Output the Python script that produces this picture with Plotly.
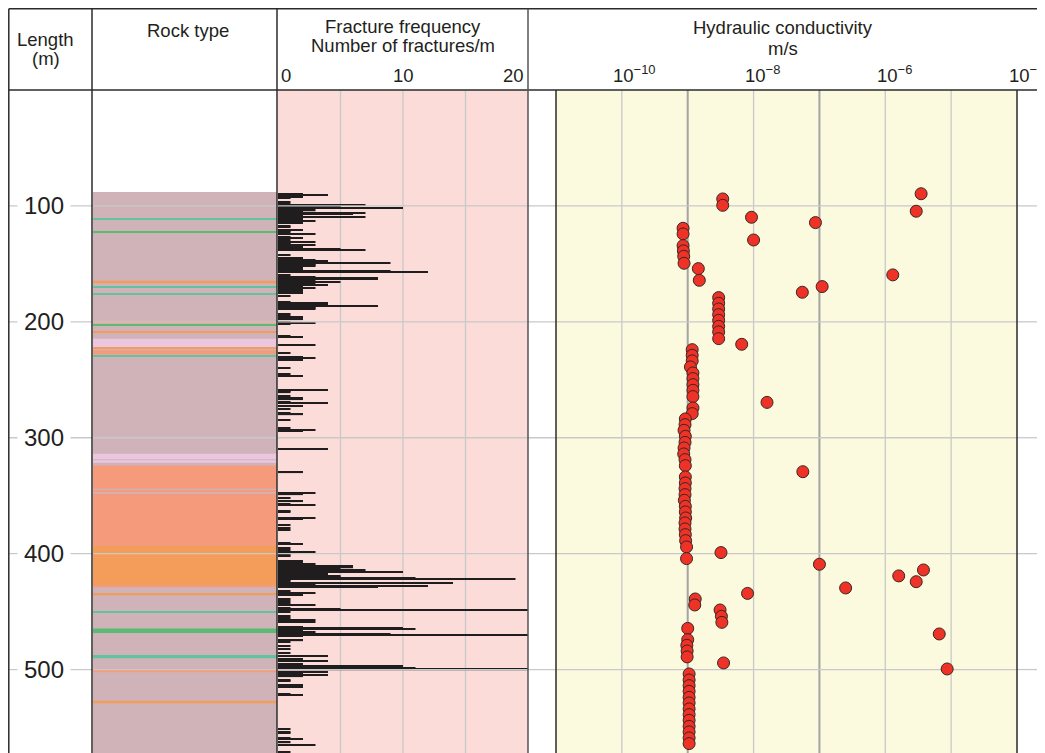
import plotly.graph_objects as go

# The page adds an 8 px body margin, so the figure is made 8 px smaller and
# every reference pixel position is shifted by OFF.
OFF = 8
W, H = 1045 - OFF, 753 - OFF
TOP = 90  # header bottom (reference px)

def px(x):
    return (x - OFF) / W

def py(y):
    return 1 - (y - OFF) / H

DEPTH_MAX = 572
FONT = "Liberation Sans, Arial, sans-serif"
TXT = "#231f20"

# ---------------- Rock type intervals (m) ----------------
rock_top = [88, 110.5, 121.7, 164.5, 169.6, 175.6, 199.3, 202.5, 208.5, 214.5, 222.4, 224.6, 229.2,
            313.8, 319.5, 324.0, 345.5, 348.3, 393.3, 427.8, 434.8, 450.0, 464.5, 487.4, 501.0, 527.0]
rock_bottom = [572, 111.5, 122.7, 166.8, 170.4, 176.4, 200.3, 203.5, 209.6, 222.0, 223.4, 228.3, 229.9,
               318.5, 321.5, 344.0, 346.8, 393.3, 427.8, 429.0, 436.0, 451.0, 468.5, 490.3, 502.4, 529.0]
rock_kind = ["mauve", "teal", "green", "orange", "teal", "teal", "salmon", "green", "orange", "pink", "orange",
             "salmon", "teal", "pink", "pink", "salmon", "salmon", "salmon", "orange", "salmon", "orange",
             "teal", "green", "teal", "salmon", "orange"]
rock_palette = {"mauve": "#cfb3b8", "teal": "#62c49f", "green": "#5bbb72", "orange": "#f49c5a",
                "salmon": "#f59b7b", "pink": "#eac6df"}

# ---------------- Fracture frequency (per 1 m) ----------------
frac_depth = [90, 91, 92, 93, 97, 98, 99, 100, 101, 102, 103, 104, 105, 106, 107, 108, 109, 110, 111, 112,
              113, 114, 115, 117, 118, 121, 122, 123, 124, 127, 128, 129, 130, 131, 132, 133, 134, 135, 136,
              137, 138, 142, 145, 147, 148, 149, 150, 151, 152, 153, 154, 155, 156, 157, 160, 161, 162, 163,
              165, 166, 167, 168, 169, 171, 172, 173, 174, 175, 178, 183, 184, 185, 186, 187, 188, 189, 193,
              195, 196, 197, 198, 200, 201, 202, 212, 213, 220, 227, 230, 231, 232, 233, 240, 245, 247,
              259, 260, 261, 264, 266, 267, 269, 270, 273, 275, 279, 280, 285, 292, 293, 294, 310, 330,
              348, 349, 352, 355, 357, 358, 363, 364, 369, 370, 375, 378, 380, 391, 392, 395, 397, 399,
              401, 402, 406, 407, 409, 411, 412, 413, 414, 415, 416, 417, 418, 419, 420, 421,
              422, 423, 424, 425, 427, 428, 429, 432, 434, 435, 436, 439, 441, 443, 444, 447, 448, 449,
              450, 454, 456, 457, 459, 463, 464, 465, 466, 467, 468, 469, 470, 471, 475, 476, 480, 482,
              486, 488, 491, 493, 495, 497, 498, 499, 500, 502, 503, 504, 505, 506, 509, 510, 513, 514,
              515, 521, 522, 551, 554, 555, 559, 560, 563, 565, 571]
frac_count = [2, 4, 2, 1, 1, 1, 7, 5, 5, 10, 2, 3, 2, 7, 6, 2, 2, 7, 2, 2,
              3, 1, 2, 1, 1, 2, 1, 1, 3, 1, 2, 1, 1, 3, 1, 1, 3, 2, 2,
              5, 7, 1, 2, 3, 4, 9, 3, 3, 3, 2, 2, 2, 9, 12, 1, 3, 8, 8,
              3, 5, 3, 4, 2, 3, 2, 2, 2, 2, 1, 1, 4, 4, 8, 3, 3, 3, 1,
              1, 2, 2, 2, 1, 3, 1, 1, 2, 3, 1, 2, 3, 2, 2, 1, 1, 2,
              4, 1, 1, 1, 2, 2, 1, 4, 2, 1, 1, 2, 1, 1, 3, 2, 4, 2,
              3, 2, 1, 2, 1, 3, 1, 1, 3, 2, 1, 1, 1, 1, 2, 1, 1, 3,
              1, 1, 2, 2, 3, 6, 6, 5, 7, 3, 10, 3, 4, 5, 5, 11,
              19, 1, 1, 14, 3, 12, 8, 1, 3, 2, 2, 1, 1, 1, 3, 1, 5, 20,
              1, 1, 1, 3, 3, 2, 10, 11, 2, 2, 3, 9, 20, 2, 2, 1, 1, 1,
              1, 4, 2, 4, 2, 10, 3, 11, 20, 4, 2, 2, 4, 2, 1, 1, 2, 2,
              2, 1, 2, 1, 1, 1, 1, 2, 1, 3, 1]

# ---------------- Hydraulic conductivity (m/s) ----------------
k_depth = [89.5, 94, 99.5, 104.6, 109.8, 114.4, 119.3, 124.2, 129.4, 134.3, 138.8, 143.5, 149.5, 154.1,
           159.5, 164.2, 169.6, 174.5, 179.1, 184.0, 188.9, 193.8, 198.7, 203.9, 208.7, 214.5, 219.4,
           224.0, 228.9, 233.7, 238.9, 244.1, 249.0, 254.2, 259.1, 264.5, 269.5, 274.3, 279.2,
           283.8, 288.7, 293.6, 298.8, 304.0, 308.8, 314.0, 318.9, 324.1, 329.3, 333.8, 339.0, 343.9,
           349.1, 354.0, 359.2, 364.0, 369.2, 373.5, 378.7, 383.6, 388.8, 394.2, 399.1, 404.3, 409.2,
           414.1, 419.2, 424.2, 429.6, 434.3, 439.1, 444.3, 448.6, 454.1, 459.3, 464.5, 469.3, 474.2,
           479.1, 484.0, 489.1, 494.3, 499.5, 503.8, 509.0, 513.9, 518.8, 524.0, 528.8, 534.0, 538.9,
           543.8, 549.0, 553.8, 559.0, 563.9]
k_value = [3.5e-6, 3.4e-9, 3.4e-9, 2.95e-6, 9.3e-9, 8.7e-8, 8.5e-10, 8.5e-10, 1.0e-8, 8.5e-10, 8.6e-10,
           8.7e-10, 8.8e-10, 1.45e-9, 1.3e-6, 1.5e-9, 1.1e-7, 5.5e-8, 2.95e-9, 2.95e-9, 2.95e-9, 2.95e-9,
           2.95e-9, 2.95e-9, 2.95e-9, 2.95e-9, 6.6e-9, 1.17e-9, 1.17e-9, 1.17e-9, 1.1e-9, 1.2e-9, 1.2e-9,
           1.2e-9, 1.2e-9, 1.2e-9, 1.6e-8, 1.2e-9, 1.17e-9, 9.2e-10, 9.1e-10, 8.8e-10, 9.2e-10, 9.1e-10,
           8.8e-10, 8.7e-10, 9.1e-10, 9.2e-10, 5.6e-8, 9.2e-10, 9.2e-10, 9.1e-10, 9.1e-10, 8.9e-10,
           9.2e-10, 9.2e-10, 9.3e-10, 9.1e-10, 9.1e-10, 9.2e-10, 9.3e-10, 9.6e-10, 3.2e-9, 9.6e-10,
           1.0e-7, 3.8e-6, 1.6e-6, 2.95e-6, 2.5e-7, 8.1e-9, 1.3e-9, 1.28e-9, 3.1e-9, 3.25e-9, 3.3e-9,
           1.0e-9, 6.6e-6, 1.0e-9, 9.7e-10, 9.8e-10, 9.8e-10, 3.5e-9, 8.7e-6, 1.05e-9, 1.05e-9, 1.05e-9,
           1.05e-9, 1.05e-9, 1.05e-9, 1.05e-9, 1.05e-9, 1.05e-9, 1.05e-9, 1.05e-9, 1.05e-9, 1.05e-9]

# ---------------- Axis / header labels ----------------
depth_ticks = [100, 200, 300, 400, 500]
frac_ticks = [0, 10, 20]
frac_grid = [5, 10, 15]
k_tick_exp = [-10, -8, -6, -4]
k_tick_text = ["10<sup>\u221210</sup>", "10<sup>\u22128</sup>", "10<sup>\u22126</sup>", "10<sup>\u22124</sup>"]
k_grid_exp = [-10, -8, -6, -5]
k_limit_exp = [-9, -7]
K_MIN_EXP, K_MAX_EXP = -11, -4

# panel pixel geometry (reference px)
ROCK_X = (93, 277)
FRAC_X = (278, 528)
K_X = (556, 1017)

fig = go.Figure()

# rock type as full-width horizontal bars spanning each depth interval
fig.add_trace(go.Bar(
    orientation="h",
    y=[(t + b) / 2 for t, b in zip(rock_top, rock_bottom)],
    x=[1] * len(rock_top),
    base=0,
    width=[b - t for t, b in zip(rock_top, rock_bottom)],
    marker=dict(color=[rock_palette[k] for k in rock_kind], line=dict(width=0)),
    xaxis="x", yaxis="y", hoverinfo="skip", showlegend=False,
))

# fracture frequency bars
fig.add_trace(go.Bar(
    orientation="h",
    y=frac_depth,
    x=frac_count,
    base=0,
    width=1,
    marker=dict(color="#1f1d1e", line=dict(width=0)),
    xaxis="x2", yaxis="y", hoverinfo="skip", showlegend=False,
))

# hydraulic conductivity points
fig.add_trace(go.Scatter(
    x=k_value, y=k_depth, mode="markers",
    marker=dict(size=12, color="#ee3226", line=dict(color="#3a2626", width=1)),
    xaxis="x3", yaxis="y", hoverinfo="skip", showlegend=False,
))

shapes = []
ytop = py(TOP)

# panel backgrounds
shapes.append(dict(type="rect", xref="paper", yref="paper", x0=px(FRAC_X[0]), x1=px(FRAC_X[1]),
                   y0=0, y1=ytop, fillcolor="#fbdcd8", line=dict(width=0), layer="below"))
shapes.append(dict(type="rect", xref="paper", yref="paper", x0=px(K_X[0]), x1=px(K_X[1]),
                   y0=0, y1=ytop, fillcolor="#fbf9de", line=dict(width=0), layer="below"))

# fracture vertical grid
for v in frac_grid:
    shapes.append(dict(type="line", xref="x2", yref="paper", x0=v, x1=v, y0=0, y1=ytop,
                       line=dict(color="#c9c9c9", width=1.3), layer="below"))

# conductivity vertical grid
span = K_MAX_EXP - K_MIN_EXP
for e in k_grid_exp:
    f = (e - K_MIN_EXP) / span
    shapes.append(dict(type="line", xref="x3 domain", yref="paper", x0=f, x1=f, y0=0, y1=ytop,
                       line=dict(color="#c9c9c9", width=1.3), layer="below"))
for e in k_limit_exp:
    f = (e - K_MIN_EXP) / span
    shapes.append(dict(type="line", xref="x3 domain", yref="paper", x0=f, x1=f, y0=0, y1=ytop,
                       line=dict(color="#a3a3a3", width=2), layer="below"))

# horizontal depth grid
for d in depth_ticks:
    shapes.append(dict(type="line", xref="paper", yref="y", x0=px(9), x1=px(K_X[0]), y0=d, y1=d,
                       line=dict(color="#c9c9c9", width=1.3), layer="above"))
    shapes.append(dict(type="line", xref="paper", yref="y", x0=px(K_X[0]), x1=px(K_X[1]), y0=d, y1=d,
                       line=dict(color="#c9c9c9", width=1.3), layer="below"))
    shapes.append(dict(type="line", xref="paper", yref="y", x0=px(K_X[1]), x1=1, y0=d, y1=d,
                       line=dict(color="#c9c9c9", width=1.3), layer="above"))

# frame lines
DARK = "#2b2b2b"
def hline(y, x0, x1, w=1.5, c=DARK):
    shapes.append(dict(type="line", xref="paper", yref="paper", x0=px(x0), x1=px(x1), y0=py(y), y1=py(y),
                       line=dict(color=c, width=w), layer="above"))

def vline(x, y0, y1, w=1.5, c=DARK):
    shapes.append(dict(type="line", xref="paper", yref="paper", x0=px(x), x1=px(x), y0=py(y0), y1=py(y1),
                       line=dict(color=c, width=w), layer="above"))

hline(8.8, 8.8, 1045)
hline(90, 8.8, 1045)
vline(8.8, 8.8, 753)
vline(92, 8.8, 753)
vline(277, 8.8, 753)
vline(528, 8.8, 753, c="#555555")
vline(556, 90, 753)
vline(1017, 90, 753)

annotations = []

def label(text, x, y, size=18.5, anchor="center", **kw):
    annotations.append(dict(text=text, xref="paper", yref="paper", x=px(x), y=py(y), showarrow=False,
                            xanchor=anchor, yanchor="middle", font=dict(family=FONT, size=size, color=TXT), **kw))

label("Length", 45, 39)
label("(m)", 46, 59)
label("Rock type", 188, 30)
label("Fracture frequency", 403, 26)
label("Number of fractures/m", 403, 46)
label("Hydraulic conductivity", 783, 28)
label("m/s", 783, 48)

# fracture axis tick labels
for v in frac_ticks:
    xp = FRAC_X[0] + (v / 20) * (FRAC_X[1] - FRAC_X[0])
    if v == frac_ticks[0]:
        label(str(v), xp + 1, 75, anchor="left")
    elif v == frac_ticks[-1]:
        label(str(v), xp - 2, 75, anchor="right")
    else:
        label(str(v), xp, 75)

# conductivity tick labels
for e, t in zip(k_tick_exp, k_tick_text):
    xp = K_X[0] + (e - K_MIN_EXP) / span * (K_X[1] - K_X[0])
    label(t, xp - 10.5, 74, anchor="left")

# depth labels with white background interrupting the grid line
for d in depth_ticks:
    annotations.append(dict(text=str(d), xref="paper", yref="y", x=px(44), y=d, showarrow=False,
                            xanchor="center", yanchor="middle", bgcolor="white", borderpad=6,
                            font=dict(family=FONT, size=24, color=TXT)))

fig.update_layout(
    width=W, height=H,
    margin=dict(l=0, r=0, t=0, b=0),
    paper_bgcolor="white", plot_bgcolor="rgba(0,0,0,0)",
    barmode="overlay",
    showlegend=False,
    shapes=shapes,
    annotations=annotations,
    xaxis=dict(domain=[px(ROCK_X[0]), px(ROCK_X[1])], range=[0, 1], visible=False, anchor="y", fixedrange=True),
    xaxis2=dict(domain=[px(FRAC_X[0]), px(FRAC_X[1])], range=[0, 20], visible=False, anchor="y", fixedrange=True),
    xaxis3=dict(domain=[px(K_X[0]), px(K_X[1])], type="log", range=[K_MIN_EXP, K_MAX_EXP], visible=False,
                anchor="y", fixedrange=True),
    yaxis=dict(domain=[0, ytop], range=[DEPTH_MAX, 0], visible=False, fixedrange=True),
)

fig.write_html("out.html")
